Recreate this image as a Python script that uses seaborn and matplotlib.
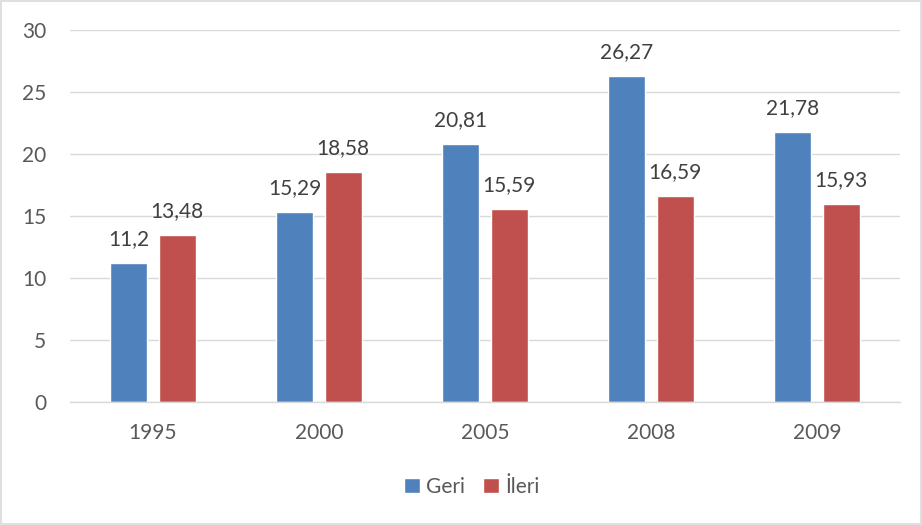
import matplotlib
matplotlib.use("Agg")
import matplotlib.pyplot as plt
import seaborn as sns
import pandas as pd
from matplotlib.patches import Rectangle

years = ["1995", "2000", "2005", "2008", "2009"]
geri = [11.2, 15.29, 20.81, 26.27, 21.78]
ileri = [13.48, 18.58, 15.59, 16.59, 15.93]
series = ["Geri", "İleri"]
colors = ["#4F81BD", "#C0504D"]

df = pd.DataFrame({
    "year": years * 2,
    "value": geri + ileri,
    "series": [series[0]] * len(years) + [series[1]] * len(years),
})

sns.set_style("white")
plt.rcParams["font.family"] = ["Lato", "DejaVu Sans"]

fig = plt.figure(figsize=(9.22, 5.25), dpi=100)
ax = fig.add_axes([70 / 922, 1 - 402 / 525, 830 / 922, 372 / 525])

sns.barplot(data=df, x="year", y="value", hue="series", palette=colors,
            width=0.58, gap=0.23, ax=ax, legend=True, saturation=1)

ax.set_ylim(0, 30)
ax.set_xlim(-0.5, 4.5)
ax.set_yticks(range(0, 31, 5))
ax.yaxis.grid(True, color="#D9D9D9", linewidth=1)
ax.set_axisbelow(True)
for s in ["top", "right", "left"]:
    ax.spines[s].set_visible(False)
ax.spines["bottom"].set_color("#D9D9D9")
ax.spines["bottom"].set_linewidth(1)
ax.tick_params(axis="both", length=0, labelsize=15, labelcolor="#595959")
ax.tick_params(axis="y", pad=17)
ax.tick_params(axis="x", pad=15)
ax.set_xlabel("")
ax.set_ylabel("")

for cont in ax.containers:
    labels = [f"{v:g}".replace(".", ",") for v in cont.datavalues]
    ax.bar_label(cont, labels=labels, padding=10, fontsize=15, color="#404040")

leg = ax.legend(loc="center", bbox_to_anchor=(0.484, -0.228), ncol=2, frameon=False,
                fontsize=15, handlelength=0.75, handleheight=0.75, handletextpad=0.3,
                columnspacing=0.9, labelcolor="#595959")

fig.patches.append(Rectangle((1 / 922, 1 / 525), 920 / 922, 523 / 525, transform=fig.transFigure,
                             fill=False, edgecolor="#D9D9D9", linewidth=1.2))

fig.savefig("out.png", dpi=100)
